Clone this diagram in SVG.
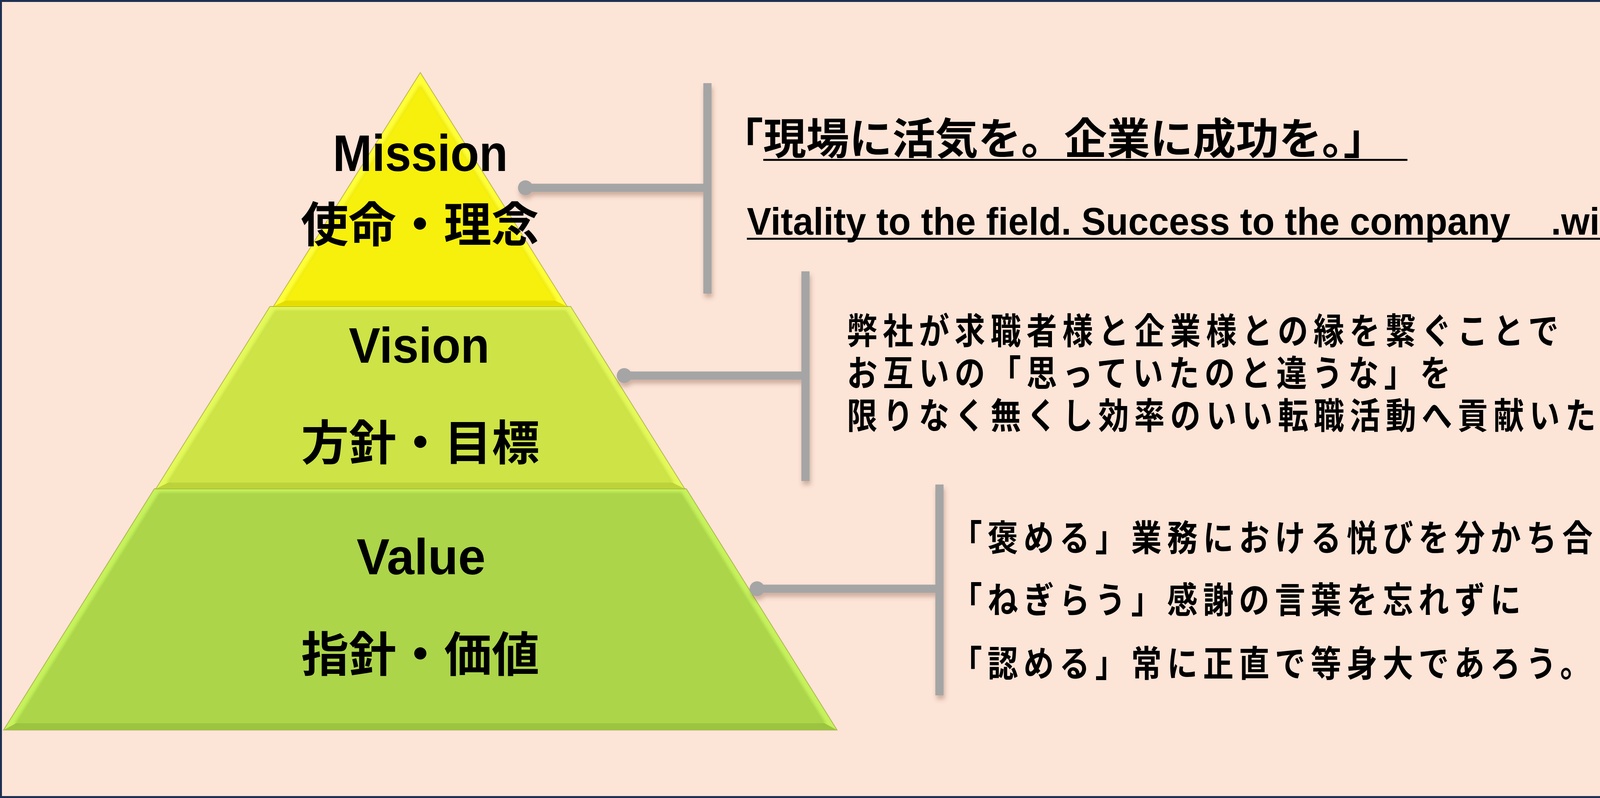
<svg xmlns="http://www.w3.org/2000/svg" width="4743" height="2044" viewBox="0 0 4743 2044">
<style>
.en{font-family:"Liberation Sans",Arial,sans-serif;font-weight:700;fill:#000}
.jp{font-family:"Noto Sans CJK JP","Noto Sans CJK SC",sans-serif;font-weight:700;fill:#000}
.conn{fill:none;stroke:#A5A5A5;stroke-width:21}
.dot{fill:#A5A5A5}
.ul{fill:#000}
.outline{stroke:#8f8f20;stroke-width:2;stroke-opacity:0.6}
</style>
<defs>
<filter id="sh" filterUnits="userSpaceOnUse" x="0" y="0" width="4743" height="2044">
<feDropShadow dx="3" dy="10" stdDeviation="6" flood-color="#7a4a30" flood-opacity="0.35"/>
</filter>
<filter id="soft" filterUnits="userSpaceOnUse" x="0" y="0" width="4743" height="2044">
<feGaussianBlur stdDeviation="4"/>
</filter>
</defs>
<rect x="0" y="0" width="4743" height="2044" fill="#FFFFFF"/>
<rect x="2.5" y="2.5" width="4697" height="2039" fill="#FCE4D7" stroke="#1E3052" stroke-width="5"/>

<g id="node-value">
<polygon class="outline" points="395,1252 1757,1252 2143,1870 9,1870" fill="#C6F25C"/>
<polygon points="42,1852 2110,1852 2143,1870 9,1870" fill="#9DC440"/>
<polygon points="409,1264 1743,1264 2110,1852 42,1852" fill="#ACD54A" stroke="#93bb38" stroke-width="5" stroke-opacity="0.6" filter="url(#soft)"/>
<polygon points="411,1266 1741,1266 2106,1850 46,1850" fill="#ACD54A"/>
<text class="en" x="913" y="1471" font-size="130" textLength="330" lengthAdjust="spacingAndGlyphs">Value</text>
<text class="jp" x="1076" y="1720" font-size="122" text-anchor="middle">指針・価値</text>
</g>

<g id="node-vision">
<polygon class="outline" points="691,785 1461,785 1753,1252 399,1252" fill="#E4F95A"/>
<polygon points="431,1236 1721,1236 1753,1252 399,1252" fill="#BDD33A"/>
<polygon points="706,797 1447,797 1721,1236 431,1236" fill="#CDE346" stroke="#b2c832" stroke-width="5" stroke-opacity="0.6" filter="url(#soft)"/>
<polygon points="708,799 1445,799 1717,1234 435,1234" fill="#CDE346"/>
<text class="en" x="893" y="929" font-size="128" textLength="360" lengthAdjust="spacingAndGlyphs">Vision</text>
<text class="jp" x="1076" y="1178" font-size="122" text-anchor="middle">方針・目標</text>
</g>

<g id="node-mission">
<polygon class="outline" points="1076,186 1452,785 700,785" fill="#FFFF38"/>
<polygon points="731,770 1421,770 1452,785 700,785" fill="#E6DE00"/>
<polygon points="1076,221 1421,770 731,770" fill="#F7F00C" stroke="#d8d000" stroke-width="5" stroke-opacity="0.6" filter="url(#soft)"/>
<polygon points="1076,225 1417,768 735,768" fill="#F7F00C"/>
<text class="en" x="852" y="438" font-size="131" textLength="448" lengthAdjust="spacingAndGlyphs">Mission</text>
<text class="jp" x="1075" y="619" font-size="122" text-anchor="middle">使命・理念</text>
</g>

<g id="connectors" filter="url(#sh)">
<g id="conn-mission">
<path class="conn" d="M1345,481 H1811 M1811,213 V752"/>
<circle class="dot" cx="1345" cy="481" r="19"/>
</g>
<g id="conn-vision">
<path class="conn" d="M1598,962 H2062 M2062,695 V1232"/>
<circle class="dot" cx="1598" cy="962" r="19"/>
</g>
<g id="conn-value">
<path class="conn" d="M1938,1508 H2405 M2405,1241 V1781"/>
<circle class="dot" cx="1938" cy="1508" r="19"/>
</g>
</g>

<g id="text-mission">
<text class="jp" x="1844" y="395" font-size="110">「現場に活気を。企業に成功を。」</text>
<rect class="ul" x="1954" y="407" width="1649" height="5"/>
<text class="en" x="1912" y="601" font-size="98" textLength="2407" lengthAdjust="spacingAndGlyphs" xml:space="preserve">Vitality to the field. Success to the company    .with us</text>
<rect class="ul" x="1912" y="609" width="2407" height="5"/>
</g>

<g id="text-vision">
<text class="jp" transform="translate(2168,881) scale(0.85,1)" font-size="92" letter-spacing="16.2">弊社が求職者様と企業様との縁を繋ぐことで</text>
<text class="jp" transform="translate(2168,989) scale(0.85,1)" font-size="92" letter-spacing="16.2">お互いの「思っていたのと違うな」を</text>
<text class="jp" transform="translate(2168,1098) scale(0.85,1)" font-size="92" letter-spacing="16.2">限りなく無くし効率のいい転職活動へ貢献いたします</text>
</g>

<g id="text-value">
<text class="jp" transform="translate(2436,1411) scale(0.85,1)" font-size="92" letter-spacing="16.2">「褒める」業務における悦びを分かち合う文化</text>
<text class="jp" transform="translate(2436,1570) scale(0.85,1)" font-size="92" letter-spacing="16.2">「ねぎらう」感謝の言葉を忘れずに</text>
<text class="jp" transform="translate(2436,1733) scale(0.85,1)" font-size="92" letter-spacing="16.2">「認める」常に正直で等身大であろう。</text>
</g>
</svg>
